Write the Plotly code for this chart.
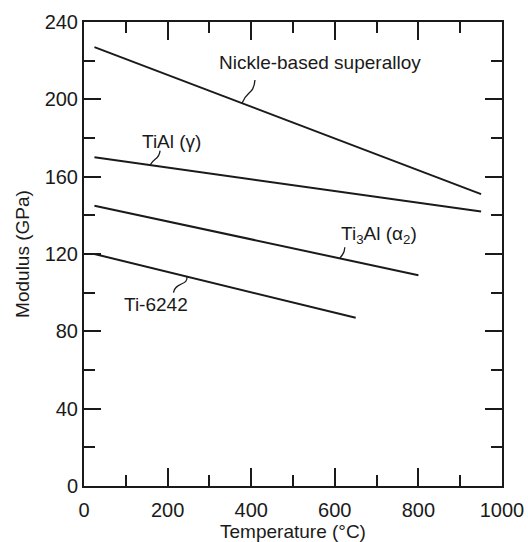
import numpy as np
import plotly.graph_objects as go

# Modulus vs temperature, straight-line trends for four alloys
temp_nickel = [25, 950]
mod_nickel = [227, 151]

temp_tial = [25, 950]
mod_tial = [170, 142]

temp_ti3al = [25, 800]
mod_ti3al = [145, 109]

temp_ti6242 = [25, 650]
mod_ti6242 = [120, 87]

x_ticks = [0, 200, 400, 600, 800, 1000]
y_ticks = [0, 40, 80, 120, 160, 200, 240]

# label text, label anchor (left edge, middle), leader start near label, leader attach temperature
label_nickel = ("Nickle-based superalloy", 318, 219, (409, 210), 378)
label_tial = ("TiAl (γ)", 134, 178, (182, 173.5), 158)
label_ti3al = ("Ti<sub>3</sub>Al (α<sub>2</sub>)", 610, 130, (624, 123.5), 612)
label_ti6242 = ("Ti-6242", 90, 94, (214, 100), 246)

series = [
    (temp_nickel, mod_nickel, label_nickel),
    (temp_tial, mod_tial, label_tial),
    (temp_ti3al, mod_ti3al, label_ti3al),
    (temp_ti6242, mod_ti6242, label_ti6242),
]

FONT = "Liberation Sans, Arial, Helvetica, sans-serif"
INK = "#1a1a1a"

fig = go.Figure()
annotations = []
shapes = []

for temps, mods, (text, lx, ly, (sx, sy), attach_t) in series:
    fig.add_trace(go.Scatter(
        x=temps, y=mods, mode="lines",
        line=dict(color=INK, width=2),
        showlegend=False, hoverinfo="skip",
    ))
    annotations.append(dict(
        x=lx, y=ly, xref="x", yref="y", text=text, showarrow=False,
        xanchor="left", yanchor="middle",
        font=dict(family=FONT, size=19, color=INK),
    ))
    # small wavy leader from the label to its line
    ex = attach_t
    ey = float(np.interp(attach_t, temps, mods))
    mx = (sx + ex) / 2
    my = (sy + ey) / 2
    dx = ex - sx
    dy = ey - sy
    c1 = (sx + dx * 0.1, my + dy * 0.15)
    c2 = (ex - dx * 0.1 + 8, my - dy * 0.05)
    path = f"M {sx},{sy} C {c1[0]},{c1[1]} {c2[0]},{c2[1]} {ex},{ey}"
    shapes.append(dict(type="path", path=path, xref="x", yref="y",
                       line=dict(color=INK, width=1.3)))

axis_common = dict(
    showline=True, linecolor=INK, linewidth=2, mirror="ticks",
    ticks="inside", tickcolor=INK, tickwidth=1.6,
    showgrid=False, zeroline=False, automargin=False,
    tickfont=dict(family=FONT, size=20, color=INK),
)

fig.update_layout(
    width=528, height=542,
    margin=dict(l=84, r=26, t=22, b=56),
    paper_bgcolor="white", plot_bgcolor="white",
    annotations=annotations, shapes=shapes,
    xaxis=dict(
        range=[0, 1000], tickvals=x_ticks, ticklen=18,
        minor=dict(dtick=100, tick0=0, ticklen=11, ticks="inside",
                   tickcolor=INK, tickwidth=1.6),
        title=dict(text="Temperature (°C)", standoff=4,
                   font=dict(family=FONT, size=19, color=INK)),
        ticklabelstandoff=5,
        **axis_common,
    ),
    yaxis=dict(
        range=[0, 240], tickvals=y_ticks, ticklen=17,
        minor=dict(dtick=20, tick0=0, ticklen=11, ticks="inside",
                   tickcolor=INK, tickwidth=1.6),
        title=dict(text="Modulus (GPa)", standoff=10,
                   font=dict(family=FONT, size=19, color=INK)),
        ticklabelstandoff=0,
        **axis_common,
    ),
)

fig.write_html("out.html")
